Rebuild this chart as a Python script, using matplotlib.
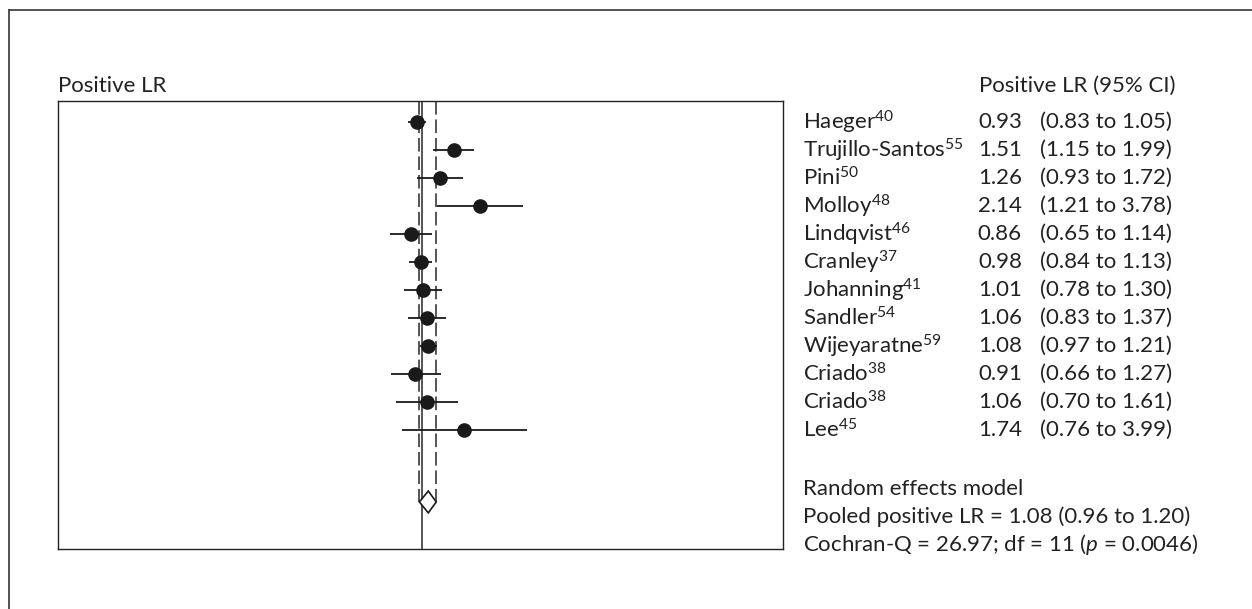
import numpy as np
import matplotlib.pyplot as plt
from matplotlib.lines import Line2D
from matplotlib.patches import Polygon
from matplotlib.transforms import blended_transform_factory

plt.rcParams['font.family'] = ['Lato', 'DejaVu Sans']
plt.rcParams['mathtext.fontset'] = 'custom'
plt.rcParams['mathtext.rm'] = 'Lato'
plt.rcParams['mathtext.it'] = 'Lato:italic'

# %% Study data
studies = ['Haeger', 'Trujillo-Santos', 'Pini', 'Molloy', 'Lindqvist', 'Cranley',
           'Johanning', 'Sandler', 'Wijeyaratne', 'Criado', 'Criado', 'Lee']
refs = ['40', '55', '50', '48', '46', '37', '41', '54', '59', '38', '38', '45']
lr = [0.93, 1.51, 1.26, 2.14, 0.86, 0.98, 1.01, 1.06, 1.08, 0.91, 1.06, 1.74]
lr_lo = [0.83, 1.15, 0.93, 1.21, 0.65, 0.84, 0.78, 0.83, 0.97, 0.66, 0.70, 0.76]
lr_hi = [1.05, 1.99, 1.72, 3.78, 1.14, 1.13, 1.30, 1.37, 1.21, 1.27, 1.61, 3.99]

pooled, pooled_lo, pooled_hi = 1.08, 0.96, 1.20
footer = ['Random effects model',
          'Pooled positive LR = 1.08 (0.96 to 1.20)',
          r'Cochran-Q = 26.97; df = 11 ($\it{p}$ = 0.0046)']

rows = np.arange(len(studies))
diamond_row = 13.57
fontsize = 16

# %% Figure
fig = plt.figure(figsize=(12.52, 6.09), dpi=100)
ax = fig.add_axes([0.0461, 0.099, 0.6293 - 0.0461 - 0.004, 0.8346 - 0.099])
ax.set_xscale('log')
ax.set_xlim(1/125, 118)
ax.set_ylim(15.24, -0.76)
ax.set_xticks([])
ax.set_yticks([])
ax.minorticks_off()
for s in ax.spines.values():
    s.set_linewidth(1.0)
    s.set_color('#222222')

# reference line and pooled CI
ax.axvline(1.0, color='#555555', linewidth=1.4)
for v in (pooled_lo, pooled_hi):
    ax.plot([v, v], [-0.76, diamond_row], color='#555555', linewidth=1.4,
            linestyle=(0, (7, 2.5)))

ax.hlines(rows, lr_lo, lr_hi, color='#1a1a1a', linewidth=1.3)
ax.plot(lr, rows, 'o', color='#1a1a1a', markersize=9.5)

h = 0.39
ax.add_patch(Polygon([[pooled_lo, diamond_row], [pooled, diamond_row - h],
                      [pooled_hi, diamond_row], [pooled, diamond_row + h]],
                     closed=True, facecolor='white', edgecolor='#1a1a1a',
                     linewidth=1.2, zorder=3))

# %% Text columns
tr = blended_transform_factory(fig.transFigure, ax.transData)
x_name, x_val, x_ci = 803/1252, 1022/1252, 1040/1252
for i in rows:
    ax.text(x_name, i, studies[i] + r'$^{\mathrm{' + refs[i] + '}}$', transform=tr,
            ha='left', va='center', fontsize=fontsize, color='#222222', clip_on=False)
    ax.text(x_val, i, f'{lr[i]:.2f}', transform=tr, ha='right', va='center',
            fontsize=fontsize, color='#222222', clip_on=False)
    ax.text(x_ci, i, f'({lr_lo[i]:.2f} to {lr_hi[i]:.2f})', transform=tr,
            ha='left', va='center', fontsize=fontsize, color='#222222', clip_on=False)
for k, line in enumerate(footer):
    ax.text(x_name, 13.1 + k, line, transform=tr, ha='left', va='center',
            fontsize=fontsize, color='#222222', clip_on=False)

fig.text(58/1252, 1 - 86/609, 'Positive LR', ha='left', va='center',
         fontsize=fontsize, color='#222222')
fig.text(979/1252, 1 - 86/609, 'Positive LR (95% CI)', ha='left', va='center',
         fontsize=fontsize, color='#222222')

# outer frame (top and left only)
fig.add_artist(Line2D([8.5/1252, 1], [1 - 10/609, 1 - 10/609],
                      transform=fig.transFigure, color='#444444', linewidth=1.3))
fig.add_artist(Line2D([8.5/1252, 8.5/1252], [0, 1 - 10/609],
                      transform=fig.transFigure, color='#444444', linewidth=1.3))

fig.savefig('out.png', dpi=100)
